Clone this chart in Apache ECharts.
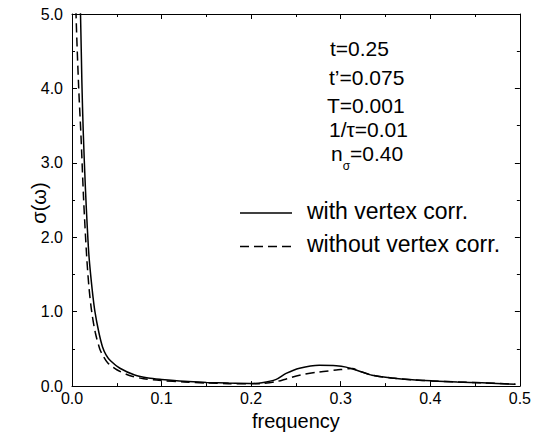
<!DOCTYPE html>
<html>
<head>
<meta charset="utf-8">
<script src="https://cdn.jsdelivr.net/npm/echarts@6/dist/echarts.min.js"></script>
<style>
  html, body { margin: 0; padding: 0; background: #fff; }
  #chart { width: 534px; height: 436px; }
</style>
</head>
<body>
<div id="chart"></div>
<script>
// with vertex corr. (solid)
const freqWith = [0.007, 0.0095, 0.011, 0.0126, 0.015, 0.017, 0.019, 0.0225, 0.0256, 0.030, 0.034, 0.038, 0.043, 0.0535, 0.07, 0.085, 0.10, 0.125, 0.15, 0.175, 0.198, 0.212, 0.228, 0.239, 0.254, 0.276, 0.295, 0.306, 0.321, 0.335, 0.357, 0.38, 0.402, 0.43, 0.458, 0.495];
const sigmaWith = [6.0, 5.0, 4.1, 3.4, 2.65, 2.15, 1.74, 1.3, 1.0, 0.72, 0.53, 0.42, 0.34, 0.24, 0.15, 0.11, 0.09, 0.065, 0.05, 0.04, 0.035, 0.045, 0.09, 0.17, 0.24, 0.28, 0.275, 0.255, 0.2, 0.146, 0.11, 0.085, 0.07, 0.055, 0.044, 0.025];
// without vertex corr. (dashed)
const freqWithout = [0.003, 0.0045, 0.0075, 0.010, 0.013, 0.0164, 0.019, 0.022, 0.026, 0.031, 0.035, 0.04, 0.05, 0.065, 0.08, 0.10, 0.125, 0.15, 0.175, 0.198, 0.212, 0.228, 0.24, 0.254, 0.276, 0.295, 0.313, 0.321, 0.335, 0.357, 0.38, 0.402, 0.43, 0.458, 0.495];
const sigmaWithout = [6.0, 5.0, 4.0, 3.37, 2.5, 1.74, 1.32, 1.0, 0.72, 0.5, 0.4, 0.31, 0.22, 0.14, 0.1, 0.075, 0.055, 0.042, 0.033, 0.03, 0.035, 0.06, 0.1, 0.146, 0.19, 0.215, 0.235, 0.2, 0.146, 0.11, 0.085, 0.07, 0.055, 0.044, 0.025];

const xTicks = [0, 0.1, 0.2, 0.3, 0.4, 0.5];
const yTicks = [0, 1, 2, 3, 4, 5];
const params = ['t=0.25', 't\u2019=0.075', 'T=0.001', '1/\u03c4=0.01'];
const seriesNames = ['with vertex corr.', 'without vertex corr.'];

const font = '"Liberation Sans", Arial, sans-serif';
const black = '#000';

const pairs = (xs, ys) => xs.map((x, i) => [x, ys[i]]);

const chart = echarts.init(document.getElementById('chart'), null, {renderer: 'svg'});

const axisCommon = {
    type: 'value',
    axisLine: {show: true, onZero: false, lineStyle: {color: black, width: 1}},
    axisTick: {show: true, inside: true, length: 5, lineStyle: {color: black}},
    minorTick: {show: true, splitNumber: 2, length: 3, lineStyle: {color: black}},
    splitLine: {show: false},
};

const option = {
    backgroundColor: '#fff',
    animation: false,
    grid: {left: 72, right: 13, top: 14, bottom: 45},
    xAxis: [
        Object.assign({}, axisCommon, {
            position: 'bottom',
            min: xTicks[0], max: xTicks[xTicks.length - 1], interval: 0.1,
            name: 'frequency',
            nameLocation: 'middle',
            nameGap: 22,
            nameTextStyle: {fontFamily: font, fontSize: 20, color: black},
            axisLabel: {
                fontFamily: font, fontSize: 16, color: black, margin: 4,
                formatter: v => v.toFixed(1)
            }
        }),
        Object.assign({}, axisCommon, {
            position: 'top',
            min: xTicks[0], max: xTicks[xTicks.length - 1], interval: 0.1,
            axisLabel: {show: false}
        })
    ],
    yAxis: [
        Object.assign({}, axisCommon, {
            position: 'left',
            min: yTicks[0], max: yTicks[yTicks.length - 1], interval: 1,
            axisLabel: {
                fontFamily: font, fontSize: 16, color: black, margin: 9,
                formatter: v => v.toFixed(1)
            }
        }),
        Object.assign({}, axisCommon, {
            position: 'right',
            min: yTicks[0], max: yTicks[yTicks.length - 1], interval: 1,
            axisLabel: {show: false}
        })
    ],
    series: [
        {
            name: seriesNames[1],
            type: 'line',
            data: pairs(freqWithout, sigmaWithout),
            showSymbol: false,
            smooth: 0.3,
            clip: true,
            lineStyle: {color: black, width: 1.5, type: [9, 5]},
            z: 2
        },
        {
            name: seriesNames[0],
            type: 'line',
            data: pairs(freqWith, sigmaWith),
            showSymbol: false,
            smooth: 0.3,
            clip: true,
            lineStyle: {color: black, width: 1.5},
            z: 3
        }
    ],
    graphic: [
        // y axis title
        {
            type: 'text', x: 39, y: 203, rotation: Math.PI / 2,
            style: {text: '\u03c3(\u03c9)', font: '20px ' + font, fill: black, textAlign: 'center', textVerticalAlign: 'middle'}
        },
        {type: 'text', left: 330, top: 38, style: {text: params[0], font: '21px ' + font, fill: black}},
        {type: 'text', left: 329, top: 67, style: {text: params[1], font: '21px ' + font, fill: black}},
        {type: 'text', left: 327, top: 95, style: {text: params[2], font: '21px ' + font, fill: black}},
        {type: 'text', left: 329, top: 119, style: {text: params[3], font: '21px ' + font, fill: black}},
        {
            type: 'text', left: 331, top: 143,
            style: {
                text: '{n|n}{s|\u03c3}{v|=0.40}',
                fill: black,
                rich: {
                    n: {fontFamily: font, fontSize: 21, fill: black, verticalAlign: 'bottom'},
                    s: {fontFamily: font, fontSize: 12, fill: black, verticalAlign: 'bottom', padding: [0, 0, -8, 0]},
                    v: {fontFamily: font, fontSize: 21, fill: black, verticalAlign: 'bottom'}
                }
            }
        },
        {type: 'line', shape: {x1: 240, y1: 213, x2: 292, y2: 213}, style: {stroke: black, lineWidth: 1.5}},
        {type: 'text', left: 307, top: 199, style: {text: seriesNames[0], font: '23px ' + font, fill: black}},
        {type: 'line', shape: {x1: 240, y1: 246.5, x2: 292, y2: 246.5}, style: {stroke: black, lineWidth: 1.5, lineDash: [9, 5]}},
        {type: 'text', left: 307, top: 232, style: {text: seriesNames[1], font: '23px ' + font, fill: black}}
    ]
};

chart.setOption(option);
</script>
</body>
</html>
